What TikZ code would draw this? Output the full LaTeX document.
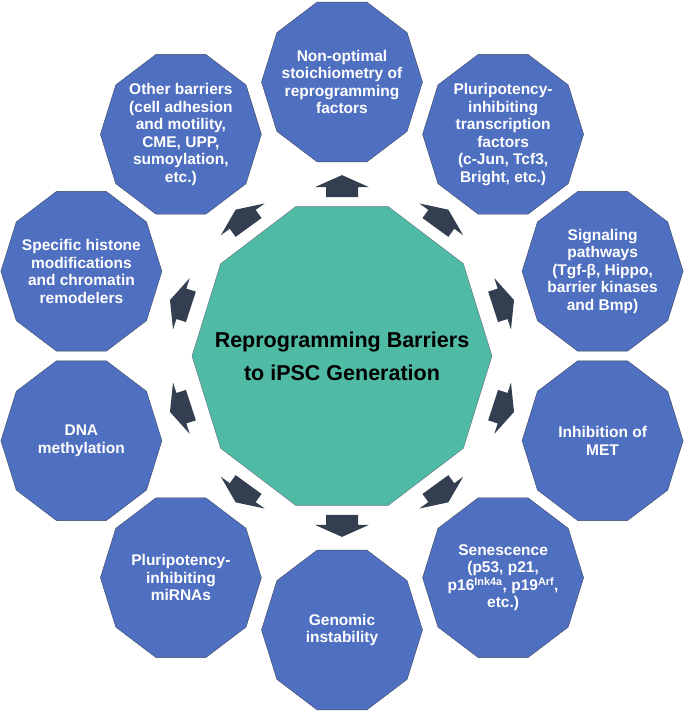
\documentclass[tikz,border=0pt]{standalone}
\usepackage{fontspec}
\setmainfont{Liberation Sans}
\usepackage{tikz}
\usetikzlibrary{calc,backgrounds}

\definecolor{barfill}{RGB}{79,111,192}
\definecolor{barline}{RGB}{60,72,100}
\definecolor{hubfill}{RGB}{80,187,165}
\definecolor{arrowfill}{RGB}{51,63,80}

\tikzset{every picture/.style={line width=0.5pt}}
\tikzset{
  bartext/.style={inner sep=0pt, text=white, align=center,
    font=\fontsize{15.5}{17.5}\selectfont\bfseries},
  hubtext/.style={inner sep=0pt, text=black, align=center,
    font=\fontsize{21.5}{33}\selectfont\bfseries},
  pics/barrow/.style={code={
    \fill[arrowfill] (-11,-16) -- (-1,-16) -- (-1,-27) -- (11,0) -- (-1,27) -- (-1,16) -- (-11,16) -- cycle;
  }}
}
% decagon round a named node: #1 node, #2 x radius, #3 y radius, #4 style
\newcommand{\decagonat}[4]{%
  \draw[#4] ($(#1)+(0:#2pt and #3pt)$)
    \foreach \k in {1,...,9} { -- ($(#1)+(\k*36:#2pt and #3pt)$) } -- cycle;}

\begin{document}
\begin{tikzpicture}[x=1pt,y=1pt]
\useasboundingbox (0,0) rectangle (685,715);

%Text: hub
\node[hubtext] (hub) at (342,359) {Reprogramming Barriers\\to iPSC Generation};

%Text: barriers, clockwise from top
\node[bartext] (stoich) at (342,633) {Non-optimal\\stoichiometry of\\reprogramming\\factors};
\node[bartext] (tfactors) at (503.1,580.7) {Pluripotency-\\inhibiting\\transcription\\factors\\(c-Jun, Tcf3,\\Bright, etc.)};
\node[bartext] (signal) at (602.6,443.7) {Signaling\\pathways\\(Tgf-β, Hippo,\\barrier kinases\\and Bmp)};
\node[bartext] (met) at (602.6,274.3) {Inhibition of\\MET};
\node[bartext] (senes) at (503.1,137.3) {Senescence\\(p53, p21,\\p16\textsuperscript{Ink4a}, p19\textsuperscript{Arf},\\etc.)};
\node[bartext] (genome) at (342,85) {Genomic\\instability};
\node[bartext] (mirna) at (180.9,137.3) {Pluripotency-\\inhibiting\\miRNAs};
\node[bartext] (dnameth) at (81.4,274.3) {DNA\\methylation};
\node[bartext] (histone) at (81.4,443.7) {Specific histone\\modifications\\and chromatin\\remodelers};
\node[bartext] (others) at (180.9,580.7) {Other barriers\\(cell adhesion\\and motility,\\CME, UPP,\\sumoylation,\\etc.)};

%Shape: Decagons
\begin{scope}[on background layer]
\decagonat{hub}{150}{157}{draw=barline!80, fill=hubfill}
\foreach \n in {stoich,tfactors,signal,met,senes,genome,mirna,dnameth,histone,others}
  {\decagonat{\n}{80.5}{84}{draw=barline, fill=barfill}}
\end{scope}

%Block arrows from hub
\pic[rotate=90] at ($(hub)!0.62!(stoich)$) {barrow};
\pic[rotate=54] at ($(hub)!0.62!(tfactors)$) {barrow};
\pic[rotate=18] at ($(hub)!0.62!(signal)$) {barrow};
\pic[rotate=-18] at ($(hub)!0.62!(met)$) {barrow};
\pic[rotate=-54] at ($(hub)!0.62!(senes)$) {barrow};
\pic[rotate=-90] at ($(hub)!0.62!(genome)$) {barrow};
\pic[rotate=-126] at ($(hub)!0.62!(mirna)$) {barrow};
\pic[rotate=-162] at ($(hub)!0.62!(dnameth)$) {barrow};
\pic[rotate=162] at ($(hub)!0.62!(histone)$) {barrow};
\pic[rotate=126] at ($(hub)!0.62!(others)$) {barrow};

\end{tikzpicture}
\end{document}
